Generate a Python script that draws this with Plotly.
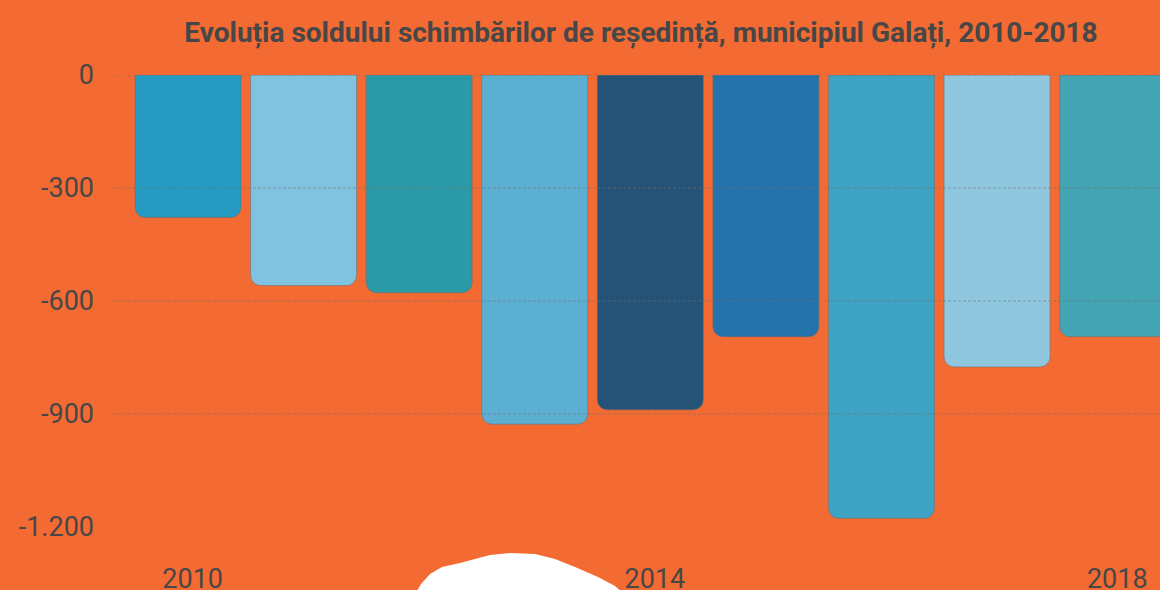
import plotly.graph_objects as go

years = ["2010", "2011", "2012", "2013", "2014", "2015", "2016", "2017", "2018"]
values = [-378, -559, -578, -927, -889, -695, -1177, -775, -695]
colors = ["#259AC2", "#7FC3E0", "#2A9AA8", "#5BAFD0", "#245377",
          "#2573AC", "#3DA2C3", "#8FC7DF", "#43A4B3"]
ytick_vals = [0, -300, -600, -900, -1200]
ytick_text = ["0", "-300", "-600", "-900", "-1.200"]
grid_vals = [0, -300, -600, -900]
xtick_show = ["2010", "2014", "2018"]

W, H = 1160, 590
ML, MR, MT, MB = 113, 0, 75, 63
PW, PH = W - ML - MR, H - MT - MB

BG = "#F36A32"
TXT = "#474747"

fig = go.Figure()
fig.add_trace(go.Bar(
    x=list(range(len(years))), y=values,
    marker=dict(color=colors, cornerradius=10,
                line=dict(color="rgba(110,110,110,0.55)", width=1)),
    width=0.917, hoverinfo="skip",
))

shapes = []
for g in grid_vals:
    shapes.append(dict(type="line", xref="paper", yref="y", x0=0, x1=1, y0=g, y1=g,
                       layer="above",
                       line=dict(color="rgba(115,115,115,0.55)", width=1, dash="3px,2px")))

def px(x, y):
    return (x - ML) / PW, (H - MB - y) / PH

blob = [(414, 596), (421, 584), (430, 574), (442, 567), (460, 563), (475, 559),
        (490, 555), (510, 553), (535, 554), (555, 559), (575, 567), (598, 577),
        (615, 586), (626, 596)]
path = ""
for i, (bx, by) in enumerate(blob):
    u, v = px(bx, by)
    path += ("M" if i == 0 else "L") + f"{u:.4f},{v:.4f} "
path += "Z"
shapes.append(dict(type="path", xref="paper", yref="paper", path=path,
                   fillcolor="white", line=dict(width=0), layer="above"))

# labels sit slightly right of the bar centres in the reference
xt_idx = [years.index(t) + 0.04 for t in xtick_show]

fig.update_layout(
    width=W, height=H, autosize=False,
    margin=dict(l=ML, r=MR, t=MT, b=MB, pad=0, autoexpand=False),
    paper_bgcolor=BG, plot_bgcolor=BG,
    font=dict(family="Roboto", color=TXT),
    title=dict(text="<b>Evoluția soldului schimbărilor de reședință, municipiul Galați, 2010-2018</b>",
               x=641 / W, xanchor="center", y=1 - 32 / H, yanchor="middle",
               xref="container", yref="container",
               font=dict(family="Roboto", size=28, color=TXT)),
    showlegend=False,
    bargap=0.08,
    shapes=shapes,
)
fig.update_xaxes(range=[-0.649, 8.41], tickmode="array", tickvals=xt_idx, ticktext=xtick_show,
                 showgrid=False, zeroline=False, showline=False, automargin=False,
                 tickfont=dict(size=27, color=TXT), ticks="", ticklabelstandoff=33)
fig.update_yaxes(range=[-1200, 0], tickmode="array", tickvals=ytick_vals, ticktext=ytick_text,
                 showgrid=False, zeroline=False, showline=False, automargin=False,
                 tickfont=dict(size=27, color=TXT), ticks="", ticklabelstandoff=18)

fig.write_html("out.html",
               config={"displayModeBar": False, "responsive": False},
               post_script="document.body.style.margin='0';document.body.style.overflow='hidden';")
